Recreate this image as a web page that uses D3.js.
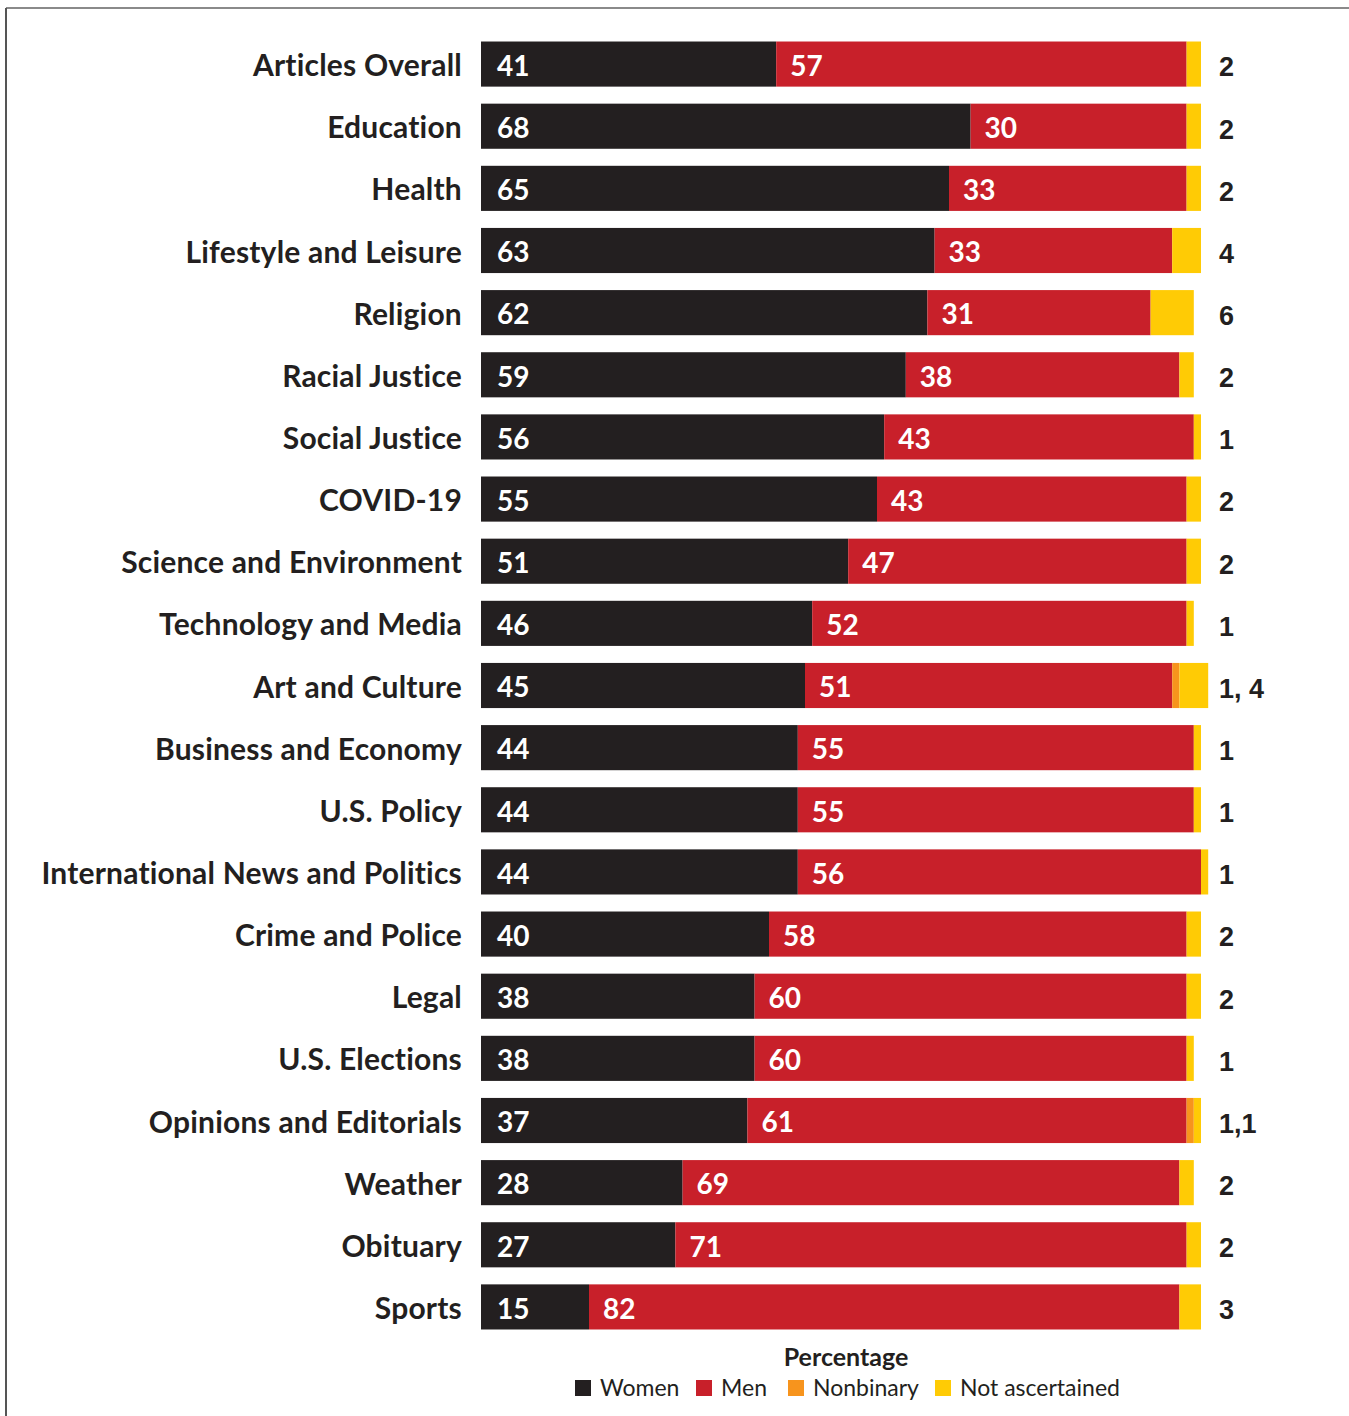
<!DOCTYPE html>
<html><head><meta charset="utf-8">
<script src="https://cdn.jsdelivr.net/npm/d3@7"></script>
<style>body{margin:0;background:#fff}svg{display:block}</style>
</head><body>
<script>
const categories = ["Articles Overall","Education","Health","Lifestyle and Leisure","Religion","Racial Justice","Social Justice","COVID-19","Science and Environment","Technology and Media","Art and Culture","Business and Economy","U.S. Policy","International News and Politics","Crime and Police","Legal","U.S. Elections","Opinions and Editorials","Weather","Obituary","Sports"];
const women = [41,68,65,63,62,59,56,55,51,46,45,44,44,44,40,38,38,37,28,27,15];
const men = [57,30,33,33,31,38,43,43,47,52,51,55,55,56,58,60,60,61,69,71,82];
const nonbinary = [0,0,0,0,0,0,0,0,0,0,1,0,0,0,0,0,0,1,0,0,0];
const notAscertained = [2,2,2,4,6,2,1,2,2,1,4,1,1,1,2,2,1,1,2,2,3];
const rightLabels = ["2","2","2","4","6","2","1","2","2","1","1, 4","1","1","1","2","2","1","1,1","2","2","3"];
const seriesNames = ["Women","Men","Nonbinary","Not ascertained"];
const seriesColors = ["#231f20","#c8202a","#f7941d","#ffcb05"];

const W = 1349, H = 1416;
const svg = d3.select("body").append("svg").attr("width", W).attr("height", H);

// frame
svg.append("line").attr("x1",6).attr("x2",W).attr("y1",8).attr("y2",8).attr("stroke","#8a8a8a").attr("stroke-width",2);
svg.append("line").attr("x1",6).attr("x2",6).attr("y1",8).attr("y2",H).attr("stroke","#555").attr("stroke-width",2);

const x = d3.scaleLinear().domain([0,100]).range([481,1201]);
const y = d3.scaleBand().domain(categories).range([33,1338]).paddingInner(0.274).paddingOuter(0.137);

const rows = categories.map((c,i)=>({cat:c, vals:[women[i],men[i],nonbinary[i],notAscertained[i]], right:rightLabels[i]}));
const keys = [0,1,2,3];
const stack = d3.stack().keys(keys).value((d,k)=>d.vals[k]);
const stacked = stack(rows);

const font = "Lato, 'Open Sans', sans-serif";

svg.append("g").selectAll("g").data(stacked).join("g")
  .attr("fill",(d,i)=>seriesColors[i])
  .selectAll("rect").data(d=>d).join("rect")
  .attr("x",d=>x(d[0])).attr("width",d=>x(d[1])-x(d[0]))
  .attr("y",d=>y(d.data.cat)).attr("height",y.bandwidth());

// category labels
svg.append("g").selectAll("text").data(rows).join("text")
  .attr("x",462).attr("y",d=>y(d.cat)+y.bandwidth()/2).attr("dy","0.4em")
  .attr("text-anchor","end").attr("font-family",font).attr("font-weight",700)
  .attr("font-size",30).attr("letter-spacing",0.2).attr("fill","#231f20").text(d=>d.cat);

// women labels
svg.append("g").selectAll("text").data(rows).join("text")
  .attr("x",x(0)+16).attr("y",d=>y(d.cat)+y.bandwidth()/2).attr("dy","0.42em")
  .attr("font-family",font).attr("font-weight",700).attr("font-size",28).attr("fill","#fff")
  .text(d=>d.vals[0]);
// men labels
svg.append("g").selectAll("text").data(rows).join("text")
  .attr("x",d=>x(d.vals[0])+14).attr("y",d=>y(d.cat)+y.bandwidth()/2).attr("dy","0.42em")
  .attr("font-family",font).attr("font-weight",700).attr("font-size",28).attr("fill","#fff")
  .text(d=>d.vals[1]);
// right labels
svg.append("g").selectAll("text").data(rows).join("text")
  .attr("x",1219).attr("y",d=>y(d.cat)+y.bandwidth()/2).attr("dy","0.46em")
  .attr("font-family","'Liberation Sans', Arial, sans-serif").attr("font-weight",700).attr("font-size",27).attr("fill","#231f20")
  .text(d=>d.right);

// legend
svg.append("text").attr("x",846).attr("y",1366).attr("text-anchor","middle")
  .attr("font-family",font).attr("font-weight",700).attr("font-size",25).attr("fill","#231f20").text("Percentage");
const legendX = [575,696,788,935];
const lg = svg.append("g").selectAll("g").data(seriesNames).join("g")
  .attr("transform",(d,i)=>`translate(${legendX[i]},1380)`);
lg.append("rect").attr("width",16).attr("height",16).attr("fill",(d,i)=>seriesColors[i]);
lg.append("text").attr("x",25).attr("y",8).attr("dy","0.36em")
  .attr("font-family",font).attr("font-size",23).attr("fill","#231f20").text(d=>d);
</script>
</body></html>
